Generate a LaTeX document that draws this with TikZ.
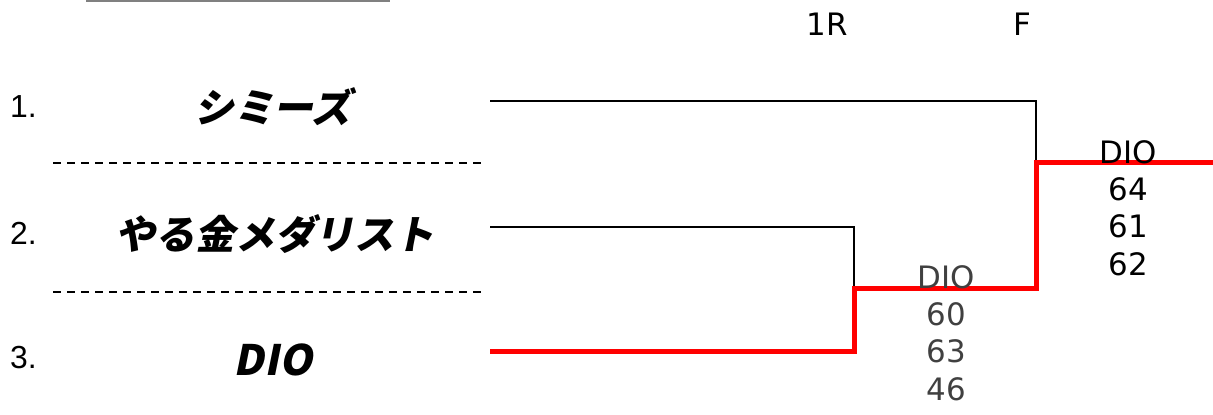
\documentclass[tikz,border=0pt]{standalone}
\usepackage{fontspec}
\setmainfont{Liberation Sans}
\newfontfamily\jpbold[FakeSlant=0.2]{Noto Sans CJK JP Black}
\newfontfamily\scfont{DejaVu Sans}
\definecolor{wred}{RGB}{255,0,0}
\definecolor{sgray}{RGB}{64,64,64}
\tikzset{
  numlbl/.style={inner sep=0pt, anchor=west, font=\fontsize{32}{32}\selectfont},
  teamlbl/.style={inner sep=0pt, font=\jpbold\fontsize{40}{40}\selectfont},
  rndlbl/.style={inner sep=0pt, font=\scfont\fontsize{31}{31}\selectfont},
  scorelbl/.style={inner sep=0pt, align=center, font=\scfont\fontsize{31}{37.5}\selectfont},
  sepline/.style={line width=2bp, dash pattern=on 8bp off 6bp},
  bline/.style={line width=2bp, black},
  rline/.style={line width=5bp, wred},
}
\begin{document}
\begin{tikzpicture}[x=1bp,y=-1bp]
\useasboundingbox (0,0) rectangle (1213,414);
% top underline (cut off)
\coordinate (ul1) at (86,0.8);
\coordinate (ul2) at (390,0.8);
\draw[line width=1.6bp, gray] (ul1) -- (ul2);
% round headers
\node[rndlbl] (h1r) at (827,24) {1R};
\node[rndlbl] (hf) at (1022,24) {F};
% seeds
\node[numlbl] (n1) at (10,107) {1.};
\node[numlbl] (n2) at (10,233) {2.};
\node[numlbl] (n3) at (10,358) {3.};
% teams
\node[teamlbl] (t1) at (273,107) {シミーズ};
\node[teamlbl] (t2) at (275,234) {やる金メダリスト};
\node[teamlbl, font=\jpbold\fontsize{42}{42}\selectfont] (t3) at (273,360) {DIO};
% separators
\coordinate (d1a) at (53,163); \coordinate (d1b) at (486,163);
\coordinate (d2a) at (53,292); \coordinate (d2b) at (486,292);
\draw[sepline] (d1a) -- (d1b);
\draw[sepline] (d2a) -- (d2b);
% bracket coordinates
\coordinate (e1) at (490,101);
\coordinate (e2) at (490,227);
\coordinate (e3) at (490,351.5);
\coordinate (j1) at (854,227);
\coordinate (j1r) at (854,288.5);
\coordinate (f1) at (1036,101);
\coordinate (f1r) at (1036,162.5);
\coordinate (win) at (1213,162.5);
% black lines
\draw[bline] (e1) -- (f1) -- (f1r);
\draw[bline] (e2) -- (j1) -- (j1r);
% red winner path
\draw[rline, line join=miter] (e3) -- (e3 -| j1) -- (j1r) -- (j1r -| f1) -- (f1r) -- (win);
% scores
\node[scorelbl, text=sgray, anchor=north] (s1) at (946,265) {DIO\\60\\63\\46};
\node[scorelbl, anchor=north] (s2) at (1128,140) {DIO\\64\\61\\62};
\end{tikzpicture}
\end{document}
